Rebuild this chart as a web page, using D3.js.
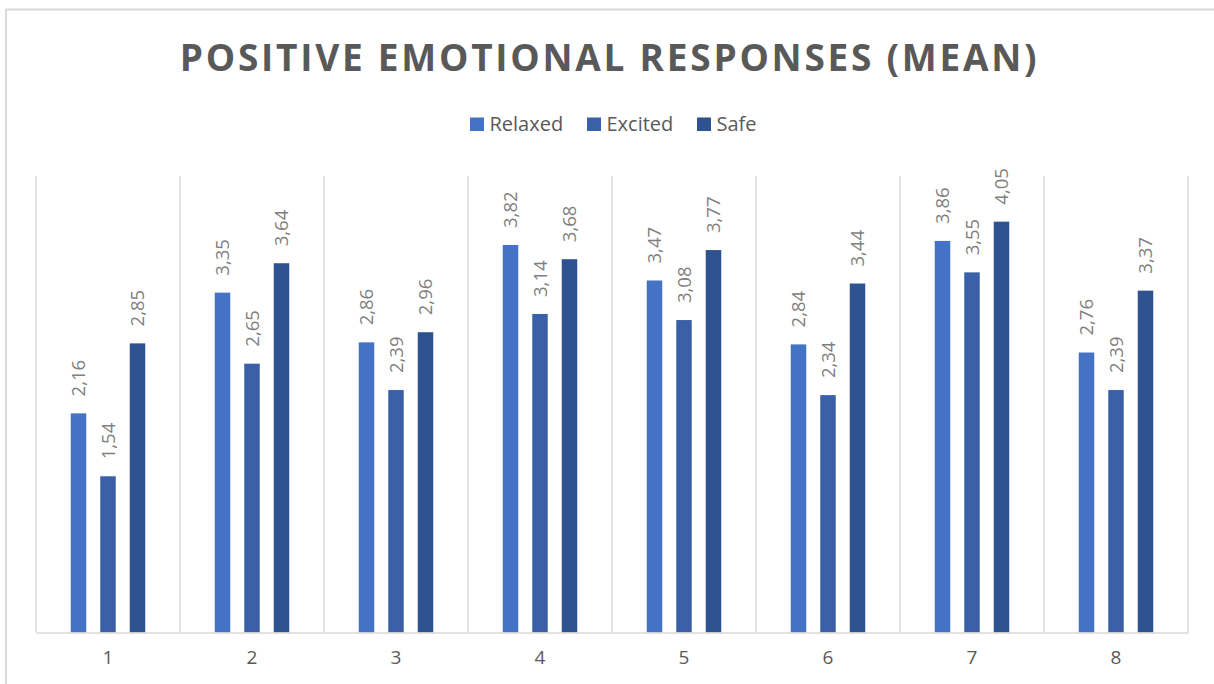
<!DOCTYPE html>
<html>
<head>
<meta charset="utf-8">
<script src="https://cdn.jsdelivr.net/npm/d3@7"></script>
<style>
  body { margin: 0; background: #fff; }
  svg { display: block; }
</style>
</head>
<body>
<div id="chart"></div>
<script>
// data
var categories = ["1", "2", "3", "4", "5", "6", "7", "8"];
var seriesNames = ["Relaxed", "Excited", "Safe"];
var relaxed = [2.16, 3.35, 2.86, 3.82, 3.47, 2.84, 3.86, 2.76];
var excited = [1.54, 2.65, 2.39, 3.14, 3.08, 2.34, 3.55, 2.39];
var safe    = [2.85, 3.64, 2.96, 3.68, 3.77, 3.44, 4.05, 3.37];
var colors  = ["#4472C4", "#3A60A9", "#2F5291"];

var W = 1214, H = 684;
var margin = {top: 176, right: 26, bottom: 51.5, left: 36},
    width = W - margin.left - margin.right,
    height = H - margin.top - margin.bottom;

var svg = d3.select("#chart").append("svg")
    .attr("width", W)
    .attr("height", H)
    .style("font-family", "'Open Sans', sans-serif");

// outer chart border (runs off the right/bottom edge)
svg.append("rect")
    .attr("x", 6).attr("y", 9.5)
    .attr("width", W + 10).attr("height", H + 10)
    .attr("fill", "none")
    .attr("stroke", "#d9d9d9")
    .attr("stroke-width", 2);

// title
svg.append("text")
    .attr("x", 609.5)
    .attr("y", 70.5)
    .attr("text-anchor", "middle")
    .attr("fill", "#595959")
    .attr("font-size", 37)
    .attr("font-weight", "bold")
    .attr("letter-spacing", 2.75)
    .text("POSITIVE EMOTIONAL RESPONSES (MEAN)");

// legend
var legendX = [470, 587, 697];
var legend = svg.append("g");
seriesNames.forEach(function(name, i) {
  legend.append("rect")
      .attr("x", legendX[i]).attr("y", 117.5)
      .attr("width", 14).attr("height", 13.5)
      .attr("fill", colors[i]);
  legend.append("text")
      .attr("x", legendX[i] + 19.5)
      .attr("y", 131)
      .attr("fill", "#595959")
      .attr("font-size", 20)
      .text(name);
});

var g = svg.append("g")
    .attr("transform", "translate(" + margin.left + "," + margin.top + ")");

var x = d3.scaleBand()
    .domain(categories)
    .range([0, width])
    .padding(0);

var y = d3.scaleLinear()
    .domain([0, 4.5])
    .range([height, 0]);

// vertical category separators
var bounds = categories.map(function(c) { return x(c); }).concat([width]);
g.selectAll(".sep")
  .data(bounds)
  .enter().append("line")
    .attr("x1", function(d) { return d; })
    .attr("x2", function(d) { return d; })
    .attr("y1", 0)
    .attr("y2", height)
    .attr("stroke", "#d9d9d9")
    .attr("stroke-width", 1.5);

// bars
var series = [relaxed, excited, safe];
var barW = 15.5, step = 29.5;
series.forEach(function(vals, s) {
  var off = (s - 1) * step - barW / 2;
  g.selectAll(".bar" + s)
    .data(vals)
    .enter().append("rect")
      .attr("x", function(d, i) { return x(categories[i]) + x.bandwidth() / 2 + off; })
      .attr("y", function(d) { return y(d); })
      .attr("width", barW)
      .attr("height", function(d) { return height - y(d); })
      .attr("fill", colors[s]);

  g.selectAll(".lab" + s)
    .data(vals)
    .enter().append("text")
      .attr("transform", function(d, i) {
        var cx = x(categories[i]) + x.bandwidth() / 2 + off + barW / 2 + 6.5;
        return "translate(" + cx + "," + (y(d) - 17) + ") rotate(-90)";
      })
      .attr("fill", "#7f7f7f")
      .attr("font-size", 18.5)
      .text(function(d) { return d.toFixed(2).replace(".", ","); });
});

// x axis
var xAxis = g.append("g")
    .attr("transform", "translate(0," + height + ")")
    .call(d3.axisBottom(x).tickSize(0).tickPadding(18));
xAxis.select(".domain").attr("stroke", "#d9d9d9").attr("stroke-width", 1.5);
xAxis.selectAll("text")
    .attr("fill", "#595959")
    .attr("font-size", 19)
    .style("font-family", "'Open Sans', sans-serif");
</script>
</body>
</html>
